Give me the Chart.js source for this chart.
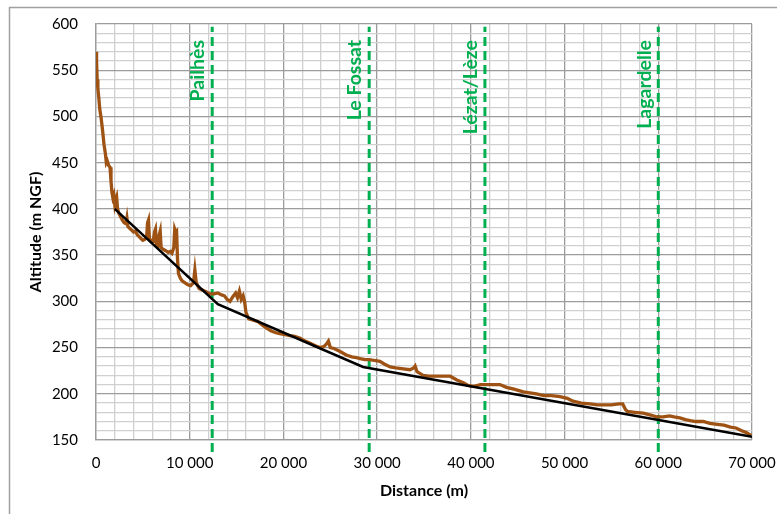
<!DOCTYPE html>
<html>
<head>
<meta charset="utf-8">
<script src="https://cdn.jsdelivr.net/npm/chart.js@4.4.1/dist/chart.umd.min.js"></script>
<style>
html,body{margin:0;padding:0;background:#fff;}
canvas{display:block;}
</style>
</head>
<body>
<canvas id="c" width="777" height="514"></canvas>
<script>
// Longitudinal profile (distance in m, altitude in m NGF)
const profileDistance = [0,60,120,200,300,400,550,700,850,1000,1100,1200,1350,1500,1600,1700,1800,1900,2000,2100,2200,2300,2450,2600,2800,3000,3200,3300,3400,3600,3800,4000,4200,4400,4600,4800,5000,5200,5400,5500,5600,5700,5900,6100,6250,6350,6450,6600,6750,6850,6950,7200,7400,7700,7900,8100,8300,8400,8500,8600,8700,8800,9000,9200,9500,9800,10100,10400,10550,10700,11000,11400,11800,12200,12600,13000,13400,13700,14000,14300,14600,14900,15100,15300,15500,15700,15850,16000,16300,16700,17300,17800,18200,18700,19200,19600,20200,20700,21200,21800,22300,22800,23400,23900,24300,24600,24800,25000,25400,26000,26700,27300,27800,28200,28700,29200,29700,30300,30800,31400,32000,32800,33500,33900,34050,34250,34900,35500,36200,37000,37800,38500,39200,39700,40300,40700,41000,41500,42300,43100,43800,44600,45600,46300,47000,47800,48600,49500,50300,50900,51800,52700,53500,54200,55000,55800,56200,56500,56700,57500,58400,59200,59800,60500,61200,61700,62300,62900,63400,64000,64800,65500,66300,67000,67700,68300,68900,69400,69900];
const profileAltitude = [570,560,540,530,520,508,498,485,470,460,450,452,447,445,430,418,412,415,405,410,413,400,395,392,388,385,384,390,381,379,377,375,376,372,370,368,366,367,369,385,388,368,365,365,375,378,362,360,372,376,358,356,355,353,354,352,358,378,375,376,345,330,325,322,320,318,317,320,334,320,314,312,310,308,308,309,307,306,302,300,305,309,304,311,302,306,300,288,281,280,278,274,271,268,266,265,264,263,262,260,257,255,252,250,251,254,257,250,249,246,242,240,239,238,237,237,236,235,232,229,228,227,226,228,230,224,220,219,219,219,219,215,212,209,208,209,210,210,210,210,207,205,202,201,200,198,198,197,195,192,190,189,188,188,188,189,189,183,181,180,179,177,175,175,176,175,174,172,171,170,170,168,167,166,164,163,160,158,155];

// Fitted trend (black line)
const trendDistance = [2000,13000,28500,70000];
const trendAltitude = [400,297,229,153.5];

// Towns (green dashed markers)
const townNames = ['Pailhès','Le Fossat','Lézat/Lèze','Lagardelle'];
const townDistance = [12400,29150,41500,60000];

const markerBottom = 137;
const markerTop = 597;

const FONT = 'Lato, "Open Sans", sans-serif';
const GREEN = '#00B050';

const pts = (xs, ys) => xs.map((x, i) => ({x: x, y: ys[i]}));
const fmt = v => String(v).replace(/\B(?=(\d{3})+(?!\d))/g, ' ');

const datasets = [];
townDistance.forEach((d, i) => {
  datasets.push({
    label: townNames[i],
    data: [{x: d, y: markerBottom}, {x: d, y: markerTop}],
    borderColor: GREEN,
    borderWidth: 3,
    borderDash: [9, 5],
    pointRadius: 0,
    showLine: true,
    clip: false,
    order: 3
  });
});
datasets.push({
  label: 'Profil',
  data: pts(profileDistance, profileAltitude),
  borderColor: '#9E5213',
  borderWidth: 3.3,
  pointRadius: 0,
  showLine: true,
  tension: 0,
  order: 2
});
datasets.push({
  label: 'Tendance',
  data: pts(trendDistance, trendAltitude),
  borderColor: '#000000',
  borderWidth: 2.5,
  pointRadius: 0,
  showLine: true,
  tension: 0,
  order: 1
});

const frame = {
  id: 'frame',
  beforeDraw(chart) {
    const ctx = chart.ctx;
    ctx.save();
    ctx.fillStyle = '#fff';
    ctx.fillRect(0, 0, chart.width, chart.height);
    ctx.strokeStyle = '#a0a0a0';
    ctx.lineWidth = 1.5;
    ctx.strokeRect(9.5, 7.5, 900, 700);
    ctx.restore();
  }
};

const townLabels = {
  id: 'townLabels',
  afterDatasetsDraw(chart) {
    const ctx = chart.ctx;
    const xs = chart.scales.x;
    ctx.save();
    ctx.fillStyle = GREEN;
    ctx.font = 'bold 19.5px ' + FONT;
    ctx.textAlign = 'right';
    ctx.textBaseline = 'middle';
    townDistance.forEach((d, i) => {
      const px = xs.getPixelForValue(d);
      ctx.save();
      ctx.translate(px - 14, 40);
      ctx.rotate(-Math.PI / 2);
      ctx.fillText(townNames[i], 0, 0);
      ctx.restore();
    });
    ctx.restore();
  }
};

new Chart(document.getElementById('c'), {
  type: 'scatter',
  data: {datasets: datasets},
  options: {
    responsive: false,
    animation: false,
    layout: {padding: {top: 24, right: 25, left: 0, bottom: 0}},
    plugins: {legend: {display: false}, tooltip: {enabled: false}},
    scales: {
      x: {
        type: 'linear',
        min: 0, max: 70000,
        afterFit: s => { s.height = 74; s.paddingLeft = 0; s.paddingRight = 0; },
        ticks: {
          stepSize: 2000,
          autoSkip: false,
          maxRotation: 0,
          padding: 14,
          color: '#000',
          font: {family: FONT, size: 15},
          callback: v => (v % 10000 === 0 ? fmt(v) : '')
        },
        grid: {
          drawTicks: false,
          lineWidth: 1.3,
          color: c => (c.tick && c.tick.value % 10000 === 0 ? '#9c9c9c' : '#d0d0d0')
        },
        border: {color: '#9c9c9c', width: 1.3},
        title: {
          display: true,
          text: 'Distance (m)',
          color: '#000',
          font: {family: FONT, size: 16, weight: 'bold'},
          padding: {top: 0, bottom: 14}
        }
      },
      y: {
        type: 'linear',
        min: 150, max: 600,
        afterFit: s => { s.width = 96; s.paddingTop = 0; s.paddingBottom = 0; },
        ticks: {
          stepSize: 10,
          autoSkip: false,
          padding: 18,
          color: '#000',
          font: {family: FONT, size: 15},
          callback: v => (v % 50 === 0 ? String(v) : '')
        },
        grid: {
          drawTicks: false,
          lineWidth: 1.3,
          color: c => (c.tick && c.tick.value % 50 === 0 ? '#9c9c9c' : '#d0d0d0')
        },
        border: {color: '#9c9c9c', width: 1.3},
        title: {
          display: true,
          text: 'Altitude (m NGF)',
          color: '#000',
          font: {family: FONT, size: 16, weight: 'bold'},
          padding: {top: 26, bottom: 0}
        }
      }
    }
  },
  plugins: [frame, townLabels]
});
</script>
</body>
</html>
